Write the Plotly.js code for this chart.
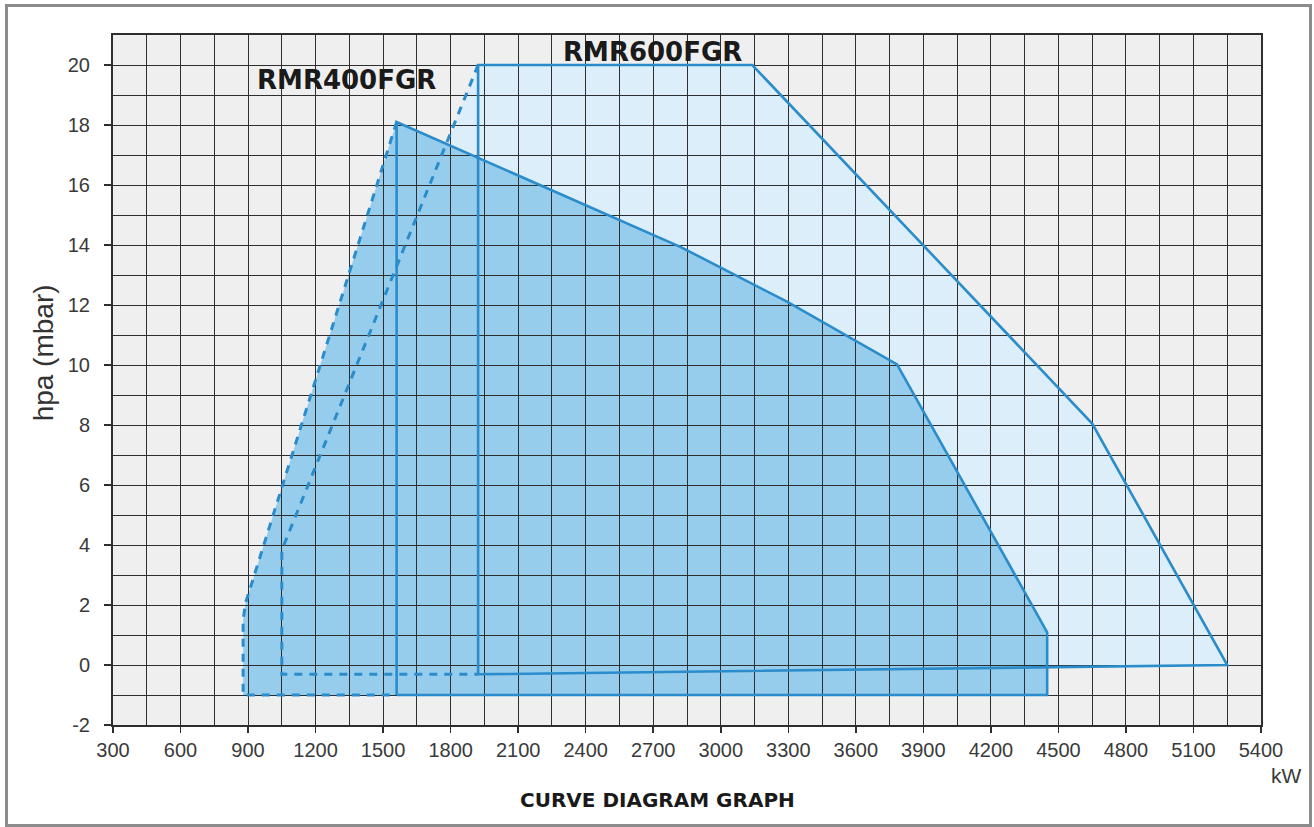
<!DOCTYPE html>
<html>
<head>
<meta charset="utf-8">
<script src="https://cdn.plot.ly/plotly-3.0.1.min.js"></script>
<style>
  html, body { margin: 0; padding: 0; background: #ffffff; }
  #chart { width: 1314px; height: 827px; position: relative; }
  #frame { position: absolute; left: 5px; top: 4px; width: 1301px; height: 817px;
           border: 3px solid #8c8c8c; pointer-events: none; }
</style>
</head>
<body>
<div style="position:relative;width:1314px;height:827px;">
  <div id="chart"></div>
  <div id="frame"></div>
</div>
<script>
// ---- data (kW, mbar) ----
const xTickVals = [300, 600, 900, 1200, 1500, 1800, 2100, 2400, 2700, 3000, 3300, 3600, 3900, 4200, 4500, 4800, 5100, 5400];
const yTickVals = [-2, 0, 2, 4, 6, 8, 10, 12, 14, 16, 18, 20];

const rmr400FillX = [878, 878, 889, 1560, 2820, 3294, 3783, 4450, 4450];
const rmr400FillY = [-1, 1.5, 2.07, 18.1, 13.94, 12.11, 10.02, 1.09, -1];
const rmr400SolidX = [1560, 1560, 2820, 3294, 3783, 4450, 4450, 1560];
const rmr400SolidY = [-1, 18.1, 13.94, 12.11, 10.02, 1.09, -1, -1];
const rmr400DashX = [1560, 889, 878, 878, 1560];
const rmr400DashY = [18.1, 2.07, 1.5, -1, -1];

const rmr600FillX = [1050, 1050, 1922, 3140, 4650, 5250, 1922];
const rmr600FillY = [-0.31, 3.83, 20, 20, 8.05, 0, -0.31];
const rmr600SolidX = [1922, 1922, 3140, 4650, 5250, 1922];
const rmr600SolidY = [-0.31, 20, 20, 8.05, 0, -0.31];
const rmr600DashX = [1922, 1050, 1050, 1922];
const rmr600DashY = [20, 3.83, -0.31, -0.31];

const seriesNames = ['RMR400FGR', 'RMR600FGR'];

// ---- styles ----
const lineBlue = '#2a8cca';
const fillLight = '#dbeef9';
const fillMid = '#97cdec';
const gridCol = '#2e2e2e';
const xRange = [300, 5400];
const yRange = [-2, 21];

const traces = [
  // fills (lower subplot, no grid)
  {x: rmr600FillX, y: rmr600FillY, xaxis: 'x', yaxis: 'y', type: 'scatter', mode: 'lines',
   fill: 'toself', fillcolor: fillLight, line: {width: 0}, hoverinfo: 'skip', showlegend: false},
  {x: rmr400FillX, y: rmr400FillY, xaxis: 'x', yaxis: 'y', type: 'scatter', mode: 'lines',
   fill: 'toself', fillcolor: fillMid, line: {width: 0}, hoverinfo: 'skip', showlegend: false},
  // outlines (upper subplot, with grid)
  {x: rmr600DashX, y: rmr600DashY, xaxis: 'x2', yaxis: 'y2', type: 'scatter', mode: 'lines',
   line: {color: lineBlue, width: 3, dash: '8px,7px'}, name: seriesNames[1], showlegend: false},
  {x: rmr600SolidX, y: rmr600SolidY, xaxis: 'x2', yaxis: 'y2', type: 'scatter', mode: 'lines',
   line: {color: lineBlue, width: 2.6}, name: seriesNames[1], showlegend: false},
  {x: rmr400DashX, y: rmr400DashY, xaxis: 'x2', yaxis: 'y2', type: 'scatter', mode: 'lines',
   line: {color: lineBlue, width: 3, dash: '8px,7px'}, name: seriesNames[0], showlegend: false},
  {x: rmr400SolidX, y: rmr400SolidY, xaxis: 'x2', yaxis: 'y2', type: 'scatter', mode: 'lines',
   line: {color: lineBlue, width: 2.6}, name: seriesNames[0], showlegend: false}
];

const tickFont = {family: '"Liberation Sans", Arial, sans-serif', size: 20, color: '#3a3a3a'};
const labelFont = {family: '"DejaVu Sans", sans-serif', size: 26, color: '#1a1a1a', weight: 700};

const layout = {
  width: 1314, height: 827,
  margin: {l: 113, r: 53, t: 35, b: 102},
  paper_bgcolor: '#ffffff',
  plot_bgcolor: 'rgba(0,0,0,0)',
  showlegend: false,
  xaxis: {range: xRange, visible: false, fixedrange: true, domain: [0, 1]},
  yaxis: {range: yRange, visible: false, fixedrange: true, domain: [0, 1]},
  xaxis2: {
    range: xRange, domain: [0, 1], anchor: 'y2',
    tickmode: 'array', tickvals: xTickVals, ticktext: xTickVals.map(String),
    ticks: 'outside', ticklen: 6, tickwidth: 1.5, tickcolor: gridCol,
    showgrid: true, gridcolor: gridCol, gridwidth: 1,
    minor: {dtick: 150, tick0: 300, showgrid: true, gridcolor: gridCol, gridwidth: 1, ticks: ''},
    showline: true, mirror: true, linecolor: gridCol, linewidth: 2,
    zeroline: false, tickfont: tickFont, fixedrange: true
  },
  yaxis2: {
    range: yRange, domain: [0, 1], anchor: 'x2',
    tickmode: 'array', tickvals: yTickVals, ticktext: yTickVals.map(String),
    ticks: 'outside', ticklen: 7, tickwidth: 1.5, tickcolor: gridCol,
    showgrid: true, gridcolor: gridCol, gridwidth: 1,
    minor: {dtick: 1, tick0: 0, showgrid: true, gridcolor: gridCol, gridwidth: 1, ticks: ''},
    showline: true, mirror: true, linecolor: gridCol, linewidth: 2,
    zeroline: false, tickfont: tickFont, ticklabelstandoff: 10, fixedrange: true
  },
  shapes: [
    {type: 'rect', xref: 'paper', yref: 'paper', x0: 0, x1: 1, y0: 0, y1: 1,
     fillcolor: '#efefef', line: {width: 0}, layer: 'below'}
  ],
  annotations: [
    {text: seriesNames[0], xref: 'x2', yref: 'y2', x: 1338, y: 19.5, showarrow: false,
     font: labelFont, xanchor: 'center', yanchor: 'middle'},
    {text: seriesNames[1], xref: 'x2', yref: 'y2', x: 2698, y: 20.45, showarrow: false,
     font: labelFont, xanchor: 'center', yanchor: 'middle'},
    {text: 'hpa (mbar)', xref: 'paper', yref: 'paper', x: -0.061, y: 0.54, textangle: -90,
     showarrow: false, xanchor: 'center', yanchor: 'middle',
     font: {family: '"Liberation Sans", Arial, sans-serif', size: 28, color: '#333333'}},
    {text: 'kW', xref: 'paper', yref: 'paper', x: 1.0225, y: -0.0735, showarrow: false,
     xanchor: 'center', yanchor: 'middle',
     font: {family: '"Liberation Sans", Arial, sans-serif', size: 21, color: '#3a3a3a'}},
    {text: 'CURVE DIAGRAM GRAPH', xref: 'paper', yref: 'paper', x: 0.4747, y: -0.1087, showarrow: false,
     xanchor: 'center', yanchor: 'middle',
     font: {family: '"DejaVu Sans", sans-serif', size: 20, color: '#1a1a1a', weight: 700}}
  ]
};

Plotly.newPlot('chart', traces, layout, {displayModeBar: false, staticPlot: true});
</script>
</body>
</html>
